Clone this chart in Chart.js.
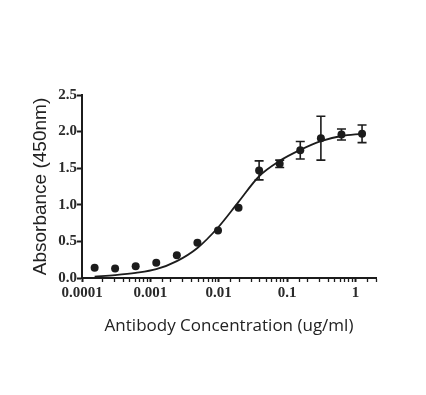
<!DOCTYPE html>
<html><head><meta charset="utf-8">
<script src="https://cdn.jsdelivr.net/npm/chart.js@4"></script>
<style>html,body{margin:0;padding:0;background:#fff;}#wrap{width:426px;height:395px;}</style>
</head><body><div id="wrap"><canvas id="c" width="426" height="395"></canvas></div>
<script>
// Data
const concentrations = [0.000153, 0.000305, 0.00061, 0.00122, 0.00244, 0.00488, 0.00977, 0.0195, 0.039, 0.078, 0.156, 0.3125, 0.625, 1.25];
const absorbance     = [0.14, 0.13, 0.16, 0.21, 0.31, 0.48, 0.65, 0.96, 1.47, 1.56, 1.745, 1.91, 1.96, 1.97];
const absorbanceErr  = [0, 0, 0, 0, 0, 0, 0, 0, 0.13, 0.05, 0.12, 0.30, 0.075, 0.12];
const fitConc        = [0.000153, 0.000305, 0.00061, 0.00122, 0.00244, 0.00488, 0.00977, 0.0195, 0.039, 0.078, 0.156, 0.3125, 0.625, 1.25];
const fitAbs         = [0.02, 0.04, 0.07, 0.12, 0.23, 0.41, 0.69, 1.04, 1.39, 1.60, 1.75, 1.87, 1.94, 1.97];
const xTickLabels = ['0.0001', '0.001', '0.01', '0.1', '1'];
const yTickLabels = ['0.0', '0.5', '1.0', '1.5', '2.0', '2.5'];
const xTitle = 'Antibody Concentration (ug/ml)';
const yTitle = 'Absorbance (450nm)';

const ink = '#1c1c1c';
const tickFont = {family: 'Liberation Serif', size: 15, weight: 'bold'};

const pointData = concentrations.map((x, i) => ({x: x, y: absorbance[i]}));
const fitData = fitConc.map((x, i) => ({x: x, y: fitAbs[i]}));

const errorBars = {
  id: 'errorBars',
  afterDatasetsDraw(chart) {
    const xs = chart.scales.x, ys = chart.scales.y, ctx = chart.ctx;
    ctx.save();
    ctx.strokeStyle = ink;
    ctx.lineWidth = 1.6;
    concentrations.forEach((c, i) => {
      const e = absorbanceErr[i];
      if (!e) return;
      const px = xs.getPixelForValue(c);
      const top = ys.getPixelForValue(absorbance[i] + e);
      const bot = ys.getPixelForValue(absorbance[i] - e);
      ctx.beginPath();
      ctx.moveTo(px, top); ctx.lineTo(px, bot);
      ctx.moveTo(px - 4.5, top); ctx.lineTo(px + 4.5, top);
      ctx.moveTo(px - 4.5, bot); ctx.lineTo(px + 4.5, bot);
      ctx.stroke();
    });
    ctx.restore();
  }
};

function isDecade(v) {
  const e = Math.log10(v);
  return Math.abs(e - Math.round(e)) < 1e-6;
}

new Chart(document.getElementById('c'), {
  type: 'scatter',
  data: {
    datasets: [
      {
        data: fitData, showLine: true, pointRadius: 0, borderColor: ink, borderWidth: 1.8,
        cubicInterpolationMode: 'monotone', fill: false
      },
      {
        data: pointData, showLine: false, pointRadius: 4, pointBackgroundColor: ink,
        pointBorderWidth: 0, borderColor: ink
      }
    ]
  },
  options: {
    responsive: false,
    animation: false,
    devicePixelRatio: 1,
    layout: {padding: {top: 95, right: 50, bottom: 57, left: 0}},
    plugins: {legend: {display: false}, tooltip: {enabled: false}},
    scales: {
      x: {
        type: 'logarithmic',
        min: 0.0001, max: 2,
        afterFit(s) { s.height = 60; },
        border: {display: true, color: ink, width: 2},
        grid: {
          display: true, drawOnChartArea: false, drawTicks: true, tickLength: 4,
          tickColor: ink,
          tickWidth: (ctx) => (ctx.tick && isDecade(ctx.tick.value)) ? 2 : 1.3
        },
        ticks: {
          autoSkip: false, maxRotation: 0, minRotation: 0, padding: 2,
          color: '#2a2a2a', font: tickFont,
          callback: (v) => isDecade(v) ? (xTickLabels[Math.round(Math.log10(v)) + 4] || '') : ''
        },
        title: {
          display: true, text: xTitle, color: '#222',
          font: {family: 'Open Sans', size: 17},
          padding: {top: 0, bottom: 2}
        }
      },
      y: {
        min: 0, max: 2.5,
        afterFit(s) { s.width = 82; },
        border: {display: true, color: ink, width: 2},
        grid: {
          display: true, drawOnChartArea: false, drawTicks: true, tickLength: 5,
          tickColor: ink, tickWidth: 2
        },
        ticks: {
          stepSize: 0.5, padding: 0, color: '#2a2a2a', font: tickFont,
          callback: (v) => yTickLabels[Math.round(v / 0.5)]
        },
        title: {
          display: true, text: yTitle, color: '#222',
          font: {family: 'Liberation Sans', size: 19},
          padding: {top: 29, bottom: 0}
        }
      }
    }
  },
  plugins: [errorBars]
});
</script>
</body></html>
